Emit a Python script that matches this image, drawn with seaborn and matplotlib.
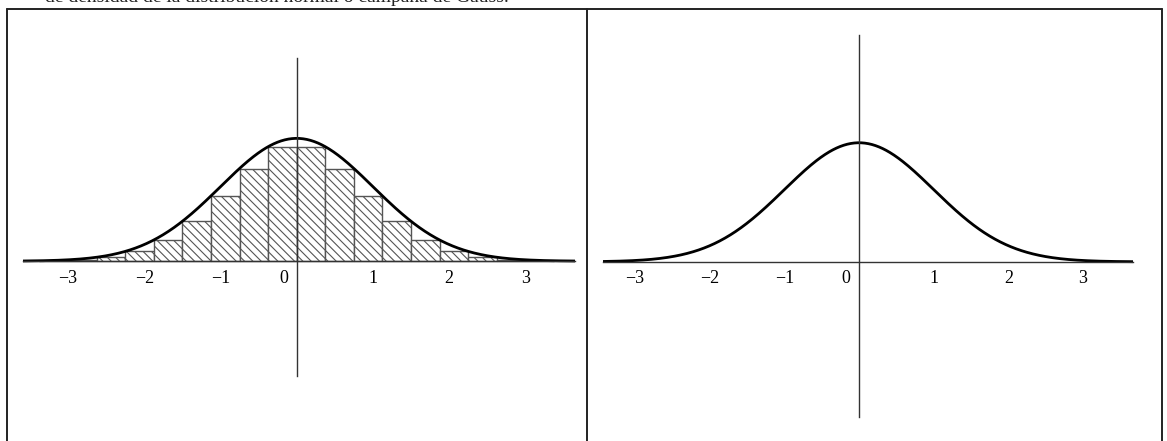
"""
Histograma y curva normal (campana de Gauss)
"""

import numpy as np
import pandas as pd
import matplotlib
matplotlib.use('Agg')
import matplotlib.pyplot as plt
import seaborn as sns
from matplotlib.lines import Line2D
from matplotlib.transforms import ScaledTranslation

# ================================= #
# DATA
# ================================= #

# bin edges of the histogram (width 3/8)
bin_edges = [-3.375, -3.0, -2.625, -2.25, -1.875, -1.5, -1.125, -0.75, -0.375,
             0.0, 0.375, 0.75, 1.125, 1.5, 1.875, 2.25, 2.625, 3.0, 3.375]
# bar heights (density units)
bar_heights = [0.001, 0.004, 0.013, 0.032, 0.069, 0.130, 0.212, 0.301, 0.372,
               0.372, 0.301, 0.212, 0.130, 0.069, 0.032, 0.013, 0.004, 0.001]
tick_values = [-3, -2, -1, 0, 1, 2, 3]
tick_labels = ['\u22123', '\u22122', '\u22121', '0', '1', '2', '3']
caption = 'de densidad de la distribución normal o campana de Gauss.'

# normal density (mean 0, sd 1)
mu, sigma = 0.0, 1.0

# ================================= #
# FIGURE
# ================================= #

sns.set_style('white')
plt.rcParams['font.family'] = ['Liberation Serif', 'DejaVu Serif']
plt.rcParams['hatch.linewidth'] = 0.8
plt.rcParams['hatch.color'] = '#333333'

W, H = 1167, 441
fig = plt.figure(figsize=(W / 100, H / 100), dpi=100)


def px_axes(x0, y0, x1, y1):
    # axes from pixel box (top-left origin)
    return fig.add_axes([x0 / W, 1 - y1 / H, (x1 - x0) / W, (y1 - y0) / H])


def style_axes(ax, xlim, ylim):
    for s in ['top', 'right']:
        ax.spines[s].set_visible(False)
    ax.spines['left'].set_position('zero')
    ax.spines['bottom'].set_position('zero')
    for s in ['left', 'bottom']:
        ax.spines[s].set_color('#333333')
        ax.spines[s].set_linewidth(1.0)
    ax.set_xlim(xlim)
    ax.set_ylim(ylim)
    ax.set_yticks([])
    ax.set_xticks(tick_values)
    ax.set_xticklabels(tick_labels)
    ax.tick_params(axis='x', direction='out', length=3, width=0.8,
                   labelsize=13, pad=3, colors='black')
    ax.tick_params(axis='x', color='#555555')
    ax.set_xlabel('')
    ax.set_ylabel('')
    ax.patch.set_alpha(0)
    # "0" label sits left of the vertical axis
    lab = ax.xaxis.get_major_ticks()[3].label1
    lab.set_horizontalalignment('right')
    lab.set_transform(lab.get_transform() +
                      ScaledTranslation(-6 / 72, 0, fig.dpi_scale_trans))


# ---- left panel: histogram + curve
ax1 = px_axes(23, 58, 575, 376)
centers = (np.array(bin_edges[:-1]) + np.array(bin_edges[1:])) / 2
hist = pd.DataFrame({'x': centers, 'w': bar_heights})
sns.histplot(data=hist, x='x', weights='w', bins=bin_edges, stat='count',
             color='white', edgecolor='#555555', linewidth=1.0, alpha=1,
             ax=ax1)
for p in ax1.patches:
    p.set_hatch('\\\\\\\\')
    p.set_facecolor('white')
xl1 = (-3.59, 3.65)
xs1 = np.linspace(xl1[0], xl1[1], 600)
curve1 = pd.DataFrame({'x': xs1,
                       'y': np.exp(-0.5 * ((xs1 - mu) / sigma) ** 2) / (sigma * np.sqrt(2 * np.pi))})
sns.lineplot(data=curve1, x='x', y='y', color='black', linewidth=2.0, ax=ax1)
style_axes(ax1, xl1, (-0.373, 0.66))

# ---- right panel: curve only
ax2 = px_axes(603, 35, 1133, 417)
xl2 = (-3.43, 3.67)
xs2 = np.linspace(xl2[0], xl2[1], 600)
curve2 = pd.DataFrame({'x': xs2,
                       'y': np.exp(-0.5 * ((xs2 - mu) / sigma) ** 2) / (sigma * np.sqrt(2 * np.pi))})
sns.lineplot(data=curve2, x='x', y='y', color='black', linewidth=2.0, ax=ax2)
style_axes(ax2, xl2, (-0.52, 0.76))

# ---- table frame around the two panels
frame_kw = dict(color='#222222', linewidth=1.4, transform=fig.transFigure)
for xp in [7, 587, 1162]:
    fig.add_artist(Line2D([xp / W, xp / W], [0, 1 - 8.5 / H], **frame_kw))
fig.add_artist(Line2D([7 / W, 1162 / W], [1 - 8.5 / H, 1 - 8.5 / H], **frame_kw))

# caption line, cut off at the top edge as in the source page
fig.text(45 / W, 1 - 1.5 / H, caption, fontsize=14, va='baseline', ha='left',
         color='#222222')

fig.savefig('out.png', dpi=100)
plt.close('all')
